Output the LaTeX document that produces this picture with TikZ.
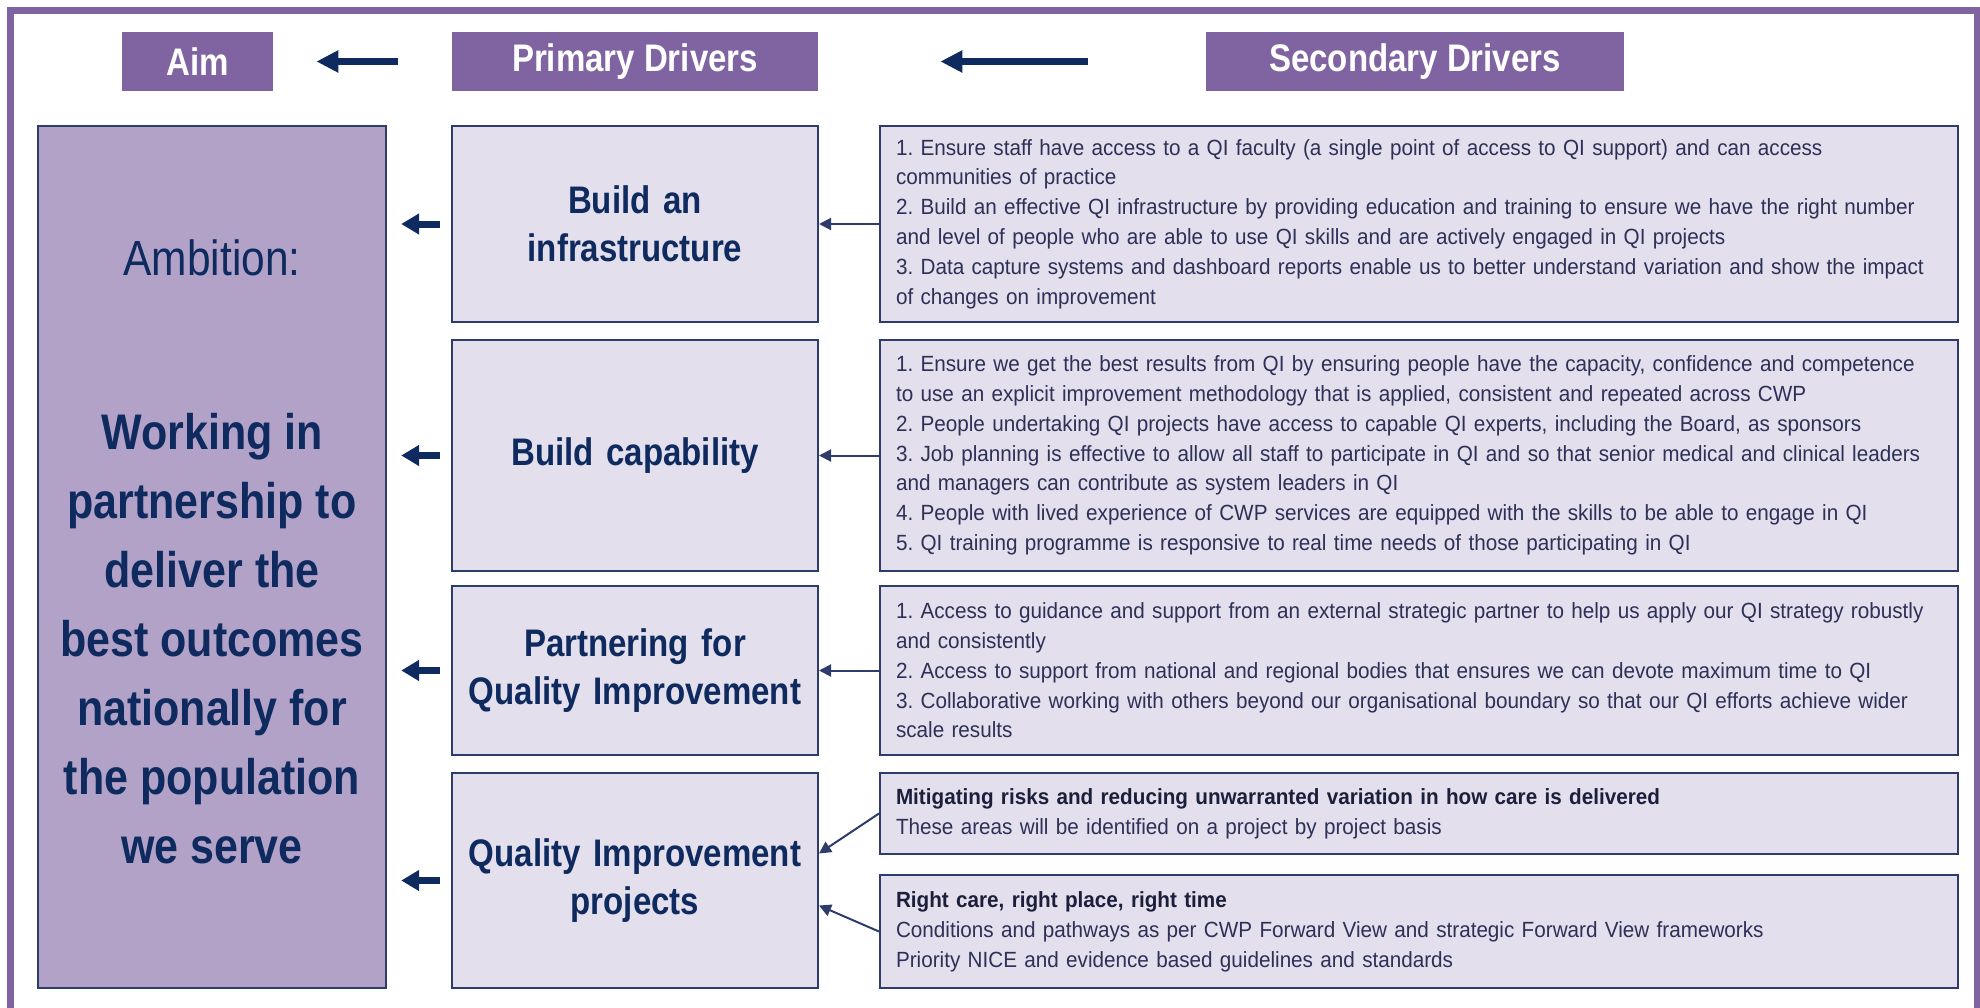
\documentclass[tikz,border=0pt]{standalone}
\usepackage{fontspec}
\setmainfont{Liberation Sans}
\newfontfamily\qicond[FakeStretch=0.86]{Liberation Sans}
\newfontfamily\qitxt[FakeStretch=0.94,WordSpace=0.8]{Liberation Sans}
\usepackage{tikz}
\usetikzlibrary{arrows.meta,positioning,calc}

\definecolor{qipurple}{HTML}{8064A2}
\definecolor{qililac}{HTML}{B3A2C7}
\definecolor{qipale}{HTML}{E4DFEC}
\definecolor{qinavy}{HTML}{0E2A5E}
\definecolor{qiline}{HTML}{2E3C6C}
\definecolor{qitext}{HTML}{2D3057}
\definecolor{qihead}{HTML}{1B1F3B}

\frenchspacing
\hyphenpenalty=10000
\begin{document}
\begin{tikzpicture}[x=0.5pt,y=-0.5pt,
   header/.style={fill=qipurple,text=white,minimum height=29.5pt,inner sep=0pt,
      font=\qicond\fontsize{19.2}{22}\selectfont\bfseries},
   ambbox/.style={draw=qiline,line width=1.2pt,fill=qililac,minimum width=174pt,minimum height=431pt},
   pribox/.style={draw=qiline,line width=1pt,fill=qipale,text=qinavy,minimum width=183pt,
      text width=175pt,align=center,inner xsep=4pt,inner ysep=0pt,
      font=\qicond\fontsize{19.2}{24}\selectfont\bfseries},
   secbox/.style={draw=qiline,line width=1pt,fill=qipale,text=qitext,minimum width=539pt,
      text width=523pt,align=left,inner xsep=8pt,inner ysep=0pt,
      font=\qitxt\fontsize{11}{14.9}\selectfont},
   bigarrow/.style={-{Triangle[length=11pt,width=10.5pt]},line width=3.5pt,color=qinavy},
   midarrow/.style={-{Triangle[length=9pt,width=10pt]},line width=3.5pt,color=qinavy,
      shorten <=5.5pt,shorten >=7pt},
   thinarrow/.style={-{Triangle[length=6pt,width=6pt]},line width=1pt,color=qiline}]
   \useasboundingbox (0,0) rectangle (1980,1007);
   \clip (0,0) rectangle (1980,1007);
   \draw[qipurple,line width=3.5pt] (10,10) rectangle (1977,1040);

   \node[header,minimum width=75.5pt] (aim)  at (197.5,61.5) {Aim};
   \node[header,minimum width=183pt]  (prim) at (635,61.5)   {Primary Drivers};
   \node[header,minimum width=209pt]  (sec)  at (1415,61.5)  {Secondary Drivers};

   \node[ambbox] (amb) at (212,557) {};
   \node[text=qinavy,font=\qicond\fontsize{24.7}{28}\selectfont] (ambtitle) at (212,258) {Ambition:};
   \node[text=qinavy,align=center,font=\qicond\fontsize{25}{34.5}\selectfont\bfseries] (ambtext) at (212,639)
      {Working in\\partnership to\\deliver the\\best outcomes\\nationally for\\the population\\we serve};

   \node[pribox,minimum height=98pt]    (p1) at (635,224)   {Build an\\infrastructure};
   \node[pribox,minimum height=115.5pt] (p2) at (635,455.5) {Build capability};
   \node[pribox,minimum height=84.5pt]  (p3) at (635,670.5) {Partnering for\\Quality Improvement};
   \node[pribox,minimum height=107.5pt] (p4) at (635,880.5) {Quality Improvement\\projects};

   \node[secbox,minimum height=98pt,right=30pt of p1] (s1)
      {1. Ensure staff have access to a QI faculty (a single point of access to QI support) and can access\\
       communities of practice\\
       2. Build an effective QI infrastructure by providing education and training to ensure we have the right number\\
       and level of people who are able to use QI skills and are actively engaged in QI projects\\
       3. Data capture systems and dashboard reports enable us to better understand variation and show the impact\\
       of changes on improvement};
   \node[secbox,minimum height=115.5pt,right=30pt of p2] (s2)
      {1. Ensure we get the best results from QI by ensuring people have the capacity, confidence and competence\\
       to use an explicit improvement methodology that is applied, consistent and repeated across CWP\\
       2. People undertaking QI projects have access to capable QI experts, including the Board, as sponsors\\
       3. Job planning is effective to allow all staff to participate in QI and so that senior medical and clinical leaders\\
       and managers can contribute as system leaders in QI\\
       4. People with lived experience of CWP services are equipped with the skills to be able to engage in QI\\
       5. QI training programme is responsive to real time needs of those participating in QI};
   \node[secbox,minimum height=84.5pt,right=30pt of p3] (s3)
      {1. Access to guidance and support from an external strategic partner to help us apply our QI strategy robustly\\
       and consistently\\
       2. Access to support from national and regional bodies that ensures we can devote maximum time to QI\\
       3. Collaborative working with others beyond our organisational boundary so that our QI efforts achieve wider\\
       scale results};
   \node[secbox,minimum height=40.5pt,right=30pt of p4.north east,anchor=north west] (s4)
      {\textcolor{qihead}{\bfseries Mitigating risks and reducing unwarranted variation in how care is delivered}\\
       These areas will be identified on a project by project basis};
   \node[secbox,minimum height=56.5pt,right=30pt of p4.south east,anchor=south west] (s5)
      {\textcolor{qihead}{\bfseries Right care, right place, right time}\\
       Conditions and pathways as per CWP Forward View and strategic Forward View frameworks\\
       Priority NICE and evidence based guidelines and standards};

   \path[bigarrow]
    (prim) edge[shorten <=27pt,shorten >=21.5pt] (aim)
    (sec)  edge[shorten <=59pt,shorten >=61pt]   (prim);
   \path[midarrow]
    (p1) edge (p1.west -| amb.east)
    (p2) edge (p2.west -| amb.east)
    (p3) edge (p3.west -| amb.east)
    (p4) edge (p4.west -| amb.east);
   \path[thinarrow]
    (s1) edge (p1)
    (s2) edge (p2)
    (s3) edge (p3)
    (s4.west) edge ($(p4.east)+(0,-27)$)
    (s5.west) edge ($(p4.east)+(0,25)$);
\end{tikzpicture}
\end{document}
